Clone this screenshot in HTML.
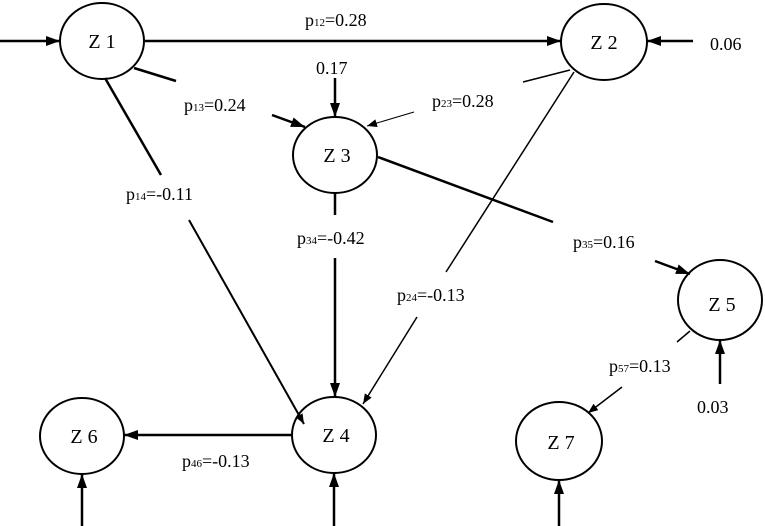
<!DOCTYPE html>
<html><head><meta charset="utf-8"><style>
html,body{margin:0;padding:0;background:#fff}
svg{display:block}
text{font-family:"Liberation Serif",serif;fill:#000}
</style></head><body>
<svg width="765" height="526" viewBox="0 0 765 526" xmlns="http://www.w3.org/2000/svg">
<defs>
<marker id="a" markerWidth="10" markerHeight="8" refX="10" refY="4" orient="auto" markerUnits="userSpaceOnUse">
<path d="M0,0 L10,4 L0,8 Z" fill="#000"/></marker>
<marker id="b" markerWidth="14" markerHeight="10" refX="14" refY="5" orient="auto" markerUnits="userSpaceOnUse">
<path d="M0,0 L14,5 L0,10 Z" fill="#000"/></marker>
</defs>
<g fill="none" stroke="#000" stroke-width="2">
<ellipse cx="102" cy="41" rx="42" ry="38"/>
<ellipse cx="604" cy="42" rx="43" ry="38"/>
<ellipse cx="335" cy="155" rx="42" ry="38"/>
<ellipse cx="334" cy="435" rx="42" ry="38"/>
<ellipse cx="720" cy="300" rx="42" ry="40"/>
<ellipse cx="82" cy="436" rx="42" ry="38"/>
<ellipse cx="559" cy="441" rx="43" ry="39"/>
</g>
<g stroke="#000" stroke-width="2.5" fill="none">
<line x1="0" y1="41" x2="60" y2="41" marker-end="url(#b)"/>
<line x1="145" y1="41" x2="561" y2="41" marker-end="url(#b)"/>
<line x1="693" y1="41" x2="647" y2="41" marker-end="url(#b)"/>
<line x1="134" y1="68" x2="176" y2="81"/>
<line x1="272" y1="115" x2="305" y2="127" marker-end="url(#b)"/>
<line x1="335" y1="78" x2="335" y2="117" marker-end="url(#b)"/>
<line x1="105" y1="78" x2="161" y2="175"/>
<line x1="189" y1="220" x2="304" y2="424" marker-end="url(#a)" stroke-width="2"/>
<line x1="335" y1="193" x2="335" y2="215"/>
<line x1="335" y1="258" x2="335" y2="397" marker-end="url(#b)"/>
<line x1="378" y1="157" x2="553" y2="222"/>
<line x1="655" y1="261" x2="690" y2="274" marker-end="url(#b)"/>
<line x1="720" y1="384" x2="720" y2="340" marker-end="url(#b)"/>
<line x1="292" y1="435" x2="124" y2="435" marker-end="url(#b)"/>
<line x1="82" y1="526" x2="82" y2="474" marker-end="url(#b)"/>
<line x1="334" y1="526" x2="334" y2="473" marker-end="url(#b)"/>
<line x1="559" y1="526" x2="559" y2="480" marker-end="url(#b)"/>
</g>
<g stroke="#000" stroke-width="1.5" fill="none">
<line x1="570" y1="70" x2="523" y2="82"/>
<line x1="414" y1="112" x2="367" y2="126" marker-end="url(#a)" stroke-width="1"/>
<line x1="574" y1="72" x2="446" y2="272"/>
<line x1="417" y1="317" x2="363" y2="404" marker-end="url(#a)"/>
<line x1="690" y1="331" x2="677" y2="342"/>
<line x1="622" y1="387" x2="588" y2="413" marker-end="url(#a)"/>
</g>
<g font-size="20" text-anchor="middle">
<text x="102" y="48">Z 1</text>
<text x="604" y="49">Z 2</text>
<text x="337" y="162">Z 3</text>
<text x="336" y="442">Z 4</text>
<text x="722" y="311">Z 5</text>
<text x="84" y="443">Z 6</text>
<text x="561" y="449">Z 7</text>
</g>
<g font-size="18">
<text x="305" y="26">p<tspan font-size="11">12</tspan>=0.28</text>
<text x="710" y="50">0.06</text>
<text x="316" y="74">0.17</text>
<text x="184" y="111">p<tspan font-size="11">13</tspan>=0.24</text>
<text x="432" y="107">p<tspan font-size="11">23</tspan>=0.28</text>
<text x="126" y="200">p<tspan font-size="11">14</tspan>=-0.11</text>
<text x="297" y="244">p<tspan font-size="11">34</tspan>=-0.42</text>
<text x="573" y="248">p<tspan font-size="11">35</tspan>=0.16</text>
<text x="397" y="301">p<tspan font-size="11">24</tspan>=-0.13</text>
<text x="609" y="372">p<tspan font-size="11">57</tspan>=0.13</text>
<text x="697" y="413">0.03</text>
<text x="182" y="467">p<tspan font-size="11">46</tspan>=-0.13</text>
</g>
</svg>
</body></html>
